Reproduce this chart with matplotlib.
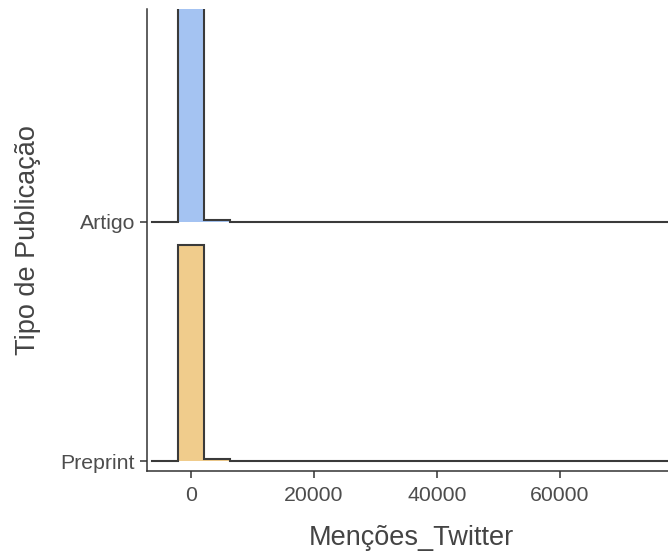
import numpy as np
import matplotlib
matplotlib.use('Agg')
import matplotlib.pyplot as plt

plt.rcParams['font.family'] = ['Liberation Sans', 'DejaVu Sans']

# histogram bins (bin width ~4250, first bin centred on 0)
BIN_WIDTH = 4250
groups = ['Preprint', 'Artigo']
colors = {'Artigo': '#A4C3F2', 'Preprint': '#F0CC8C'}

artigo_counts = [4700, 40, 7, 5, 4, 3, 3, 2, 2, 2, 2, 1, 1, 1, 1, 1, 1, 1, 1]
preprint_counts = [1460, 14, 3, 2, 1, 1, 1, 1, 1, 1, 0, 1, 0, 1, 0, 0, 1, 0, 0]
counts = {'Artigo': artigo_counts, 'Preprint': preprint_counts}

xticks = [0, 20000, 40000, 60000]
XLIM = (-7150, 78700)
SCALE = 0.904

fig = plt.figure(figsize=(6.68, 5.56), dpi=100)
ax = fig.add_axes([147/668, 1 - 471/556, (675 - 147)/668, (471 - 9)/556])

# densities, scaled by the overall max like ggridges
dens = {}
for g in groups:
    c = np.array(counts[g], dtype=float)
    dens[g] = c / (c.sum() * BIN_WIDTH)
top = max(d.max() for d in dens.values())

for i, g in enumerate(groups):
    h = dens[g] / top * SCALE
    # pad with empty bins on both sides
    h = np.concatenate(([0.0], h, [0.0]))
    left = -BIN_WIDTH / 2 - BIN_WIDTH
    edges = left + BIN_WIDTH * np.arange(len(h) + 1)
    xs = np.repeat(edges, 2)[1:-1]
    ys = i + np.repeat(h, 2)
    xs = np.concatenate((xs, [XLIM[1] + 5000]))
    ys = np.concatenate((ys, [i]))
    ax.fill_between(xs, i, ys, color=colors[g], linewidth=0, zorder=2 + i)
    ax.plot(xs, ys, color='#3a3a3a', lw=1.5, zorder=3 + i, solid_joinstyle='miter')

ax.set_xlim(*XLIM)
ax.set_ylim(-0.0418, 1.891)

ax.set_xticks(xticks)
ax.set_xticklabels(['%d' % t for t in xticks])
ax.set_yticks(range(len(groups)))
ax.set_yticklabels(groups)

for s in ['top', 'right']:
    ax.spines[s].set_visible(False)
for s in ['left', 'bottom']:
    ax.spines[s].set_color('#333333')
    ax.spines[s].set_linewidth(1.1)

ax.tick_params(axis='both', length=5, width=1.1, color='#333333',
               labelsize=15.3, labelcolor='#4D4D4D', pad=3.5)
ax.tick_params(axis='x', pad=5.5)

ax.set_xlabel('Menções_Twitter', fontsize=19.5, color='#444444', labelpad=15)
ax.set_ylabel('Tipo de Publicação', fontsize=19.5, color='#444444', labelpad=14)

fig.savefig('out.png', dpi=100)
